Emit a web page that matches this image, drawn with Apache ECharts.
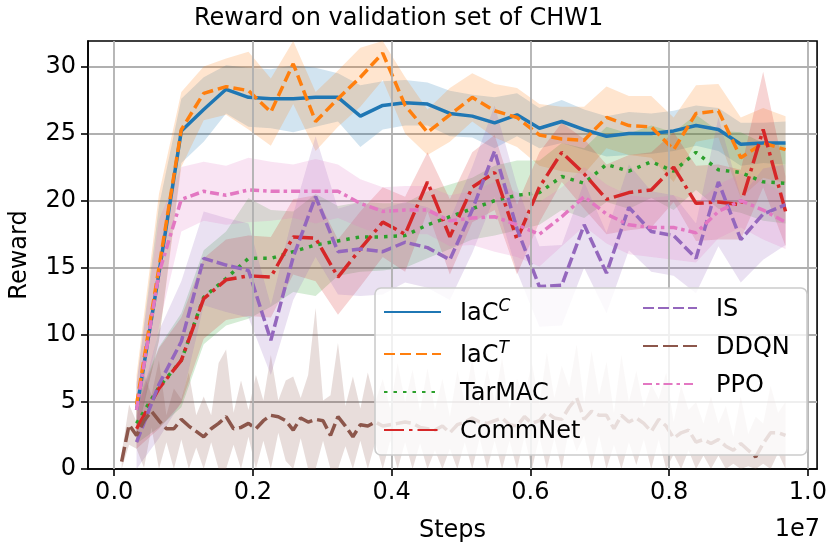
<!DOCTYPE html>
<html>
<head>
<meta charset="utf-8">
<script src="https://cdn.jsdelivr.net/npm/echarts@6/dist/echarts.min.js"></script>
<style>
  html, body { margin: 0; padding: 0; background: #fff; }
  #chart { width: 830px; height: 549px; }
</style>
</head>
<body>
<div id="chart"></div>
<script>
// evaluation steps (30 evals) and DDQN's denser evals (90)
const steps = [322581, 645161, 967742, 1290323, 1612903, 1935484, 2258065, 2580645, 2903226, 3225806,
  3548387, 3870968, 4193548, 4516129, 4838710, 5161290, 5483871, 5806452, 6129032, 6451613,
  6774194, 7096774, 7419355, 7741935, 8064516, 8387097, 8709677, 9032258, 9354839, 9677419]
const ddqnSteps = [107527, 215054, 322581, 430108, 537634, 645161, 752688, 860215, 967742, 1075269,
  1182796, 1290323, 1397849, 1505376, 1612903, 1720430, 1827957, 1935484, 2043011, 2150538,
  2258065, 2365591, 2473118, 2580645, 2688172, 2795699, 2903226, 3010753, 3118280, 3225806,
  3333333, 3440860, 3548387, 3655914, 3763441, 3870968, 3978495, 4086022, 4193548, 4301075,
  4408602, 4516129, 4623656, 4731183, 4838710, 4946237, 5053763, 5161290, 5268817, 5376344,
  5483871, 5591398, 5698925, 5806452, 5913978, 6021505, 6129032, 6236559, 6344086, 6451613,
  6559140, 6666667, 6774194, 6881720, 6989247, 7096774, 7204301, 7311828, 7419355, 7526882,
  7634409, 7741935, 7849462, 7956989, 8064516, 8172043, 8279570, 8387097, 8494624, 8602151,
  8709677, 8817204, 8924731, 9032258, 9139785, 9247312, 9354839, 9462366, 9569892, 9677419]
const xTicks = [0, 2000000, 4000000, 6000000, 8000000, 10000000]
const Y_MIN = 0
const Y_MAX = 31.9

// mean reward
const iacC = [4.4, 14.6, 25.2, 26.8, 28.3, 27.7, 27.6, 27.6, 27.7, 27.7, 26.3, 27.1, 27.3, 27.2, 26.5,
  26.3, 25.8, 26.4, 25.4, 25.9, 25.3, 24.8, 25.0, 25.0, 25.2, 25.6, 25.3, 24.2, 24.3, 24.3]
const iacT = [4.8, 15.0, 25.3, 28.0, 28.5, 28.2, 26.6, 30.2, 25.9, 27.6, 29.2, 31.0, 27.1, 25.1, 26.4,
  27.7, 26.7, 26.2, 24.9, 24.6, 24.5, 26.2, 25.6, 25.5, 23.8, 26.5, 26.7, 23.2, 24.3, 23.8]
const tarmac = [3.4, 6.1, 8.1, 12.8, 14.2, 15.7, 15.7, 16.2, 16.7, 17.0, 17.3, 17.3, 17.4, 18.2, 18.8,
  19.4, 20.0, 20.4, 20.6, 21.8, 21.3, 22.7, 22.2, 22.9, 22.2, 23.6, 22.3, 22.1, 21.4, 21.3]
const commnet = [3.0, 6.0, 8.1, 12.7, 14.1, 14.4, 14.3, 17.3, 17.2, 14.3, 16.4, 18.4, 17.5, 21.4, 17.3,
  21.0, 22.1, 17.1, 21.0, 23.6, 22.0, 20.1, 20.6, 20.8, 22.5, 19.8, 19.9, 19.7, 25.3, 19.2]
const isMean = [2.0, 6.3, 9.5, 15.7, 15.2, 14.8, 9.6, 15.8, 20.3, 16.2, 16.4, 16.2, 16.9, 16.5, 15.6,
  19.3, 23.7, 17.9, 13.6, 13.7, 18.2, 14.6, 19.5, 17.7, 17.4, 15.7, 21.4, 17.1, 19.0, 19.7]
const ddqn = [0.55, 3.3, 2.5, 3.6, 4.3, 3.6, 3.0, 3.0, 3.7, 3.2,
  2.8, 2.4, 3.0, 3.4, 3.9, 3.0, 3.1, 3.4, 3.0, 3.6,
  4.0, 3.9, 3.6, 2.9, 3.8, 3.5, 3.7, 3.6, 2.5, 3.9,
  3.2, 2.4, 3.3, 3.2, 3.5, 3.2, 3.3, 3.4, 3.5, 3.4,
  3.1, 3.0, 2.9, 3.2, 2.7, 3.3, 3.5, 3.8, 3.5, 3.4,
  3.6, 3.8, 3.3, 3.2, 3.9, 3.4, 3.6, 4.2, 3.8, 3.7,
  4.6, 5.3, 3.7, 4.3, 4.0, 4.0, 3.0, 4.0, 3.5, 3.8,
  3.4, 2.8, 3.7, 3.2, 2.3, 2.7, 2.9, 2.0, 2.2, 1.9,
  2.2, 1.7, 1.4, 1.9, 1.4, 0.9, 1.9, 2.7, 2.7, 2.5]
const ppo = [4.4, 14.6, 20.1, 20.7, 20.4, 20.8, 20.7, 20.7, 20.7, 20.7, 19.8, 19.2, 19.3, 19.3, 18.5,
  18.7, 18.8, 18.2, 17.5, 18.8, 20.3, 19.0, 18.2, 18.0, 18.0, 17.6, 19.2, 20.0, 19.3, 18.4]

// spread (half width of the shaded band)
const iacCStd = [2.0, 5.0, 2.4, 2.4, 1.8, 2.2, 2.2, 2.5, 2.2, 1.8, 2.3, 1.8, 1.7, 1.6, 1.7,
  1.6, 1.9, 1.6, 1.5, 1.6, 1.5, 1.5, 1.6, 1.5, 1.5, 1.5, 1.6, 1.6, 1.5, 1.6]
const iacTStd = [2.2, 5.5, 2.8, 2.0, 2.1, 2.9, 2.5, 3.0, 2.2, 2.1, 2.2, 2.0, 2.1, 1.7, 2.0,
  1.8, 2.0, 2.2, 2.3, 2.4, 2.5, 2.3, 2.2, 2.3, 2.4, 2.1, 2.0, 3.0, 2.6, 2.5]
const tarmacStd = [1.5, 3.0, 3.5, 3.5, 3.5, 4.5, 3.6, 3.0, 3.8, 2.6, 2.6, 2.5, 2.4, 2.5, 2.4,
  2.3, 2.6, 2.6, 2.4, 2.5, 2.6, 2.8, 2.8, 2.7, 2.9, 2.8, 2.9, 3.0, 2.9, 3.0]
const commnetStd = [1.5, 3.0, 3.2, 3.0, 3.0, 3.0, 3.0, 2.8, 3.2, 2.8, 2.8, 2.6, 2.8, 2.2, 2.8,
  2.6, 2.8, 2.6, 2.6, 2.2, 2.6, 2.6, 2.8, 2.8, 2.6, 2.8, 2.8, 2.6, 4.3, 2.6]
const isStd = [2.0, 4.0, 4.5, 3.5, 3.5, 3.5, 2.6, 3.2, 4.5, 3.2, 3.5, 3.2, 3.0, 3.0, 3.0,
  3.2, 3.4, 3.2, 3.0, 3.0, 3.2, 3.0, 3.2, 3.0, 3.0, 2.6, 4.8, 3.2, 3.4, 3.0]
const ddqnStd = [0.6, 1.5, 1.0, 3.5, 1.2, 4.5, 1.0, 3.0, 1.5, 4.0,
  1.2, 3.0, 1.0, 4.5, 5.0, 1.2, 3.5, 1.0, 4.0, 1.5,
  4.5, 1.2, 3.0, 4.0, 1.5, 3.5, 8.3, 1.5, 3.0, 5.5,
  1.5, 4.5, 1.2, 4.0, 1.5, 3.5, 1.2, 4.5, 1.5, 4.0,
  1.2, 4.5, 1.5, 3.5, 1.2, 4.0, 1.5, 4.5, 1.2, 4.0,
  1.5, 4.5, 1.2, 3.5, 1.5, 4.5, 1.2, 4.5, 1.5, 4.0,
  1.5, 4.0, 1.2, 4.5, 1.5, 4.0, 1.2, 4.5, 1.5, 3.5,
  1.2, 3.5, 1.5, 4.0, 1.2, 3.5, 1.5, 3.0, 1.2, 3.5,
  1.2, 3.0, 1.0, 3.5, 1.2, 3.0, 1.5, 3.5, 1.5, 2.5]
const ppoStd = [2.0, 4.0, 2.4, 2.2, 2.2, 2.4, 2.2, 2.0, 2.4, 2.0, 1.8, 1.8, 1.8, 1.8, 1.9,
  2.0, 2.6, 2.4, 2.4, 2.2, 2.2, 2.2, 2.2, 2.2, 2.4, 2.2, 2.0, 2.0, 2.2, 2.0]

const FONT = 'DejaVu Sans'

const runs = [
  { name: 'IaC^C', x: steps, y: iacC, s: iacCStd, color: '#1f77b4', dash: 'solid' },
  { name: 'IaC^T', x: steps, y: iacT, s: iacTStd, color: '#ff7f0e', dash: [11, 5] },
  { name: 'TarMAC', x: steps, y: tarmac, s: tarmacStd, color: '#2ca02c', dash: [3.5, 6] },
  { name: 'CommNet', x: steps, y: commnet, s: commnetStd, color: '#d62728', dash: [20, 5, 3.5, 5] },
  { name: 'IS', x: steps, y: isMean, s: isStd, color: '#9467bd', dash: [11, 4] },
  { name: 'DDQN', x: ddqnSteps, y: ddqn, s: ddqnStd, color: '#8c564b', dash: [15, 5] },
  { name: 'PPO', x: steps, y: ppo, s: ppoStd, color: '#e377c2', dash: [9, 4, 3.5, 4] }
]

const clampY = v => Math.min(Y_MAX, Math.max(Y_MIN, v))

// shaded band (mean +/- s) as one polygon through the axes' scales
function bandSeries (r) {
  return {
    type: 'custom', name: r.name + ' band', silent: true, z: 1,
    data: [[r.x[0], r.y[0]]],
    renderItem: (params, api) => {
      const upper = r.x.map((x, i) => api.coord([x, clampY(r.y[i] + r.s[i])]))
      const lower = r.x.map((x, i) => api.coord([x, clampY(r.y[i] - r.s[i])])).reverse()
      return {
        type: 'polygon',
        shape: { points: upper.concat(lower) },
        style: { fill: r.color, opacity: 0.2 }
      }
    }
  }
}

function lineSeries (r) {
  return {
    type: 'line', name: r.name, symbol: 'none', z: 3,
    data: r.x.map((x, i) => [x, r.y[i]]),
    itemStyle: { color: r.color },
    lineStyle: { color: r.color, width: 3.5, type: r.dash, cap: 'butt' },
    emphasis: { disabled: true }
  }
}

// vertical grid lines at the x ticks
const gridSeries = {
  type: 'line', name: 'xgrid', data: [], z: 0, silent: true,
  markLine: {
    silent: true, symbol: 'none', label: { show: false }, animation: false,
    lineStyle: { color: '#b0b0b0', width: 1.8, type: 'solid' },
    emphasis: { disabled: true },
    data: xTicks.map(v => ({ xAxis: v }))
  }
}

const legendText = {
  fontFamily: FONT, fontSize: 24, color: '#000', padding: [0, 0, 0, 14],
  rich: {
    m: { fontFamily: FONT, fontSize: 24, color: '#000', lineHeight: 28, verticalAlign: 'bottom' },
    s: { fontFamily: FONT, fontSize: 17, fontStyle: 'italic', color: '#000', lineHeight: 28, verticalAlign: 'top' }
  }
}
function legendLabel (name) {
  if (name === 'IaC^C') return '{m|IaC}{s|C}'
  if (name === 'IaC^T') return '{m|IaC}{s|T}'
  return '{m|' + name + '}'
}
const legendCommon = {
  orient: 'vertical', top: 298, padding: 0, itemHeight: 14, itemGap: 14, z: 20,
  selectedMode: false, textStyle: legendText, formatter: legendLabel,
  itemStyle: { opacity: 0 }
}

const chart = echarts.init(document.getElementById('chart'))
chart.setOption({
  animation: false,
  title: {
    text: 'Reward on validation set of CHW1',
    left: 189, top: 2,
    textStyle: { fontFamily: FONT, fontSize: 24, fontWeight: 'normal', color: '#000' }
  },
  grid: {
    left: 88, right: 10, top: 41, bottom: 80,
    show: true, borderColor: '#000', borderWidth: 1.6
  },
  legend: [
    Object.assign({}, legendCommon, { data: ['IaC^C', 'IaC^T', 'TarMAC', 'CommNet'], left: 383, itemWidth: 57 }),
    Object.assign({}, legendCommon, { data: ['IS', 'DDQN', 'PPO'], left: 642, itemWidth: 54 })
  ],
  xAxis: {
    type: 'value', min: -377600, max: 10132000,
    name: 'Steps', nameLocation: 'middle', nameGap: 50,
    nameTextStyle: { fontFamily: FONT, fontSize: 24, color: '#000' },
    axisLine: { show: true, onZero: false, lineStyle: { color: '#000', width: 1.6 } },
    axisTick: { show: true, length: 7, customValues: xTicks, lineStyle: { color: '#000', width: 1.6 } },
    axisLabel: {
      customValues: xTicks, margin: 12, color: '#000', fontFamily: FONT, fontSize: 24,
      formatter: v => (v / 1e7).toFixed(1)
    },
    splitLine: { show: false }
  },
  yAxis: {
    type: 'value', min: Y_MIN, max: Y_MAX, interval: 5,
    name: 'Reward', nameLocation: 'middle', nameGap: 56, nameRotate: 90,
    nameTextStyle: { fontFamily: FONT, fontSize: 24, color: '#000' },
    axisLine: { show: true, onZero: false, lineStyle: { color: '#000', width: 1.6 } },
    axisTick: { show: true, length: 7, lineStyle: { color: '#000', width: 1.6 } },
    axisLabel: { margin: 12, color: '#000', fontFamily: FONT, fontSize: 24, showMaxLabel: false },
    splitLine: { show: true, showMaxLine: false, showMinLine: false, lineStyle: { color: '#b0b0b0', width: 1.8 } }
  },
  graphic: [
    {
      type: 'rect', z: 10, silent: true,
      shape: { x: 375, y: 288, width: 432, height: 167, r: 6 },
      style: { fill: 'rgba(255,255,255,0.8)', stroke: '#cccccc', lineWidth: 1.6 }
    },
    {
      type: 'text', right: 10, top: 518, z: 10,
      style: { text: '1e7', font: '24px "DejaVu Sans"', fill: '#000' }
    }
  ],
  series: [gridSeries].concat(runs.map(bandSeries), runs.map(lineSeries))
})
</script>
</body>
</html>
